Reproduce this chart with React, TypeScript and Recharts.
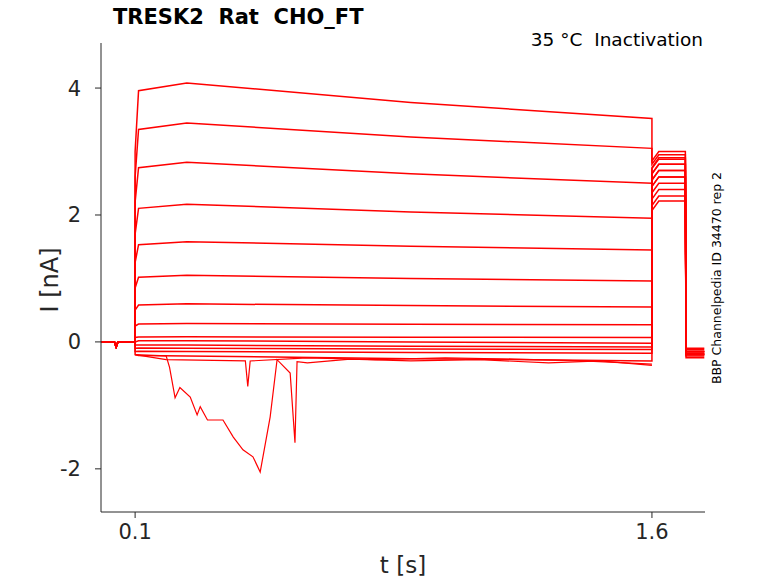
import React from "react";
import { LineChart, Line, XAxis, YAxis } from "recharts";

const xTicks = [0.1, 1.6];
const yTicks = [-2, 0, 2, 4];
// per sweep: current just after onset, plateau near start, value at 1.6 s, tail current
const sweepOnset = [3.0, 2.6, 2.2, 1.7, 1.25, 0.85, 0.5, 0.25, 0.07, 0.0, -0.05, -0.1, -0.15, -0.2];
const sweepPeak = [4.08, 3.45, 2.83, 2.17, 1.58, 1.05, 0.6, 0.29, 0.08, 0.02, -0.05, -0.1, -0.15, -0.22];
const sweepEnd = [3.52, 3.05, 2.5, 1.95, 1.45, 0.96, 0.55, 0.27, 0.07, -0.02, -0.08, -0.12, -0.18, -0.3];
const sweepTail = [3.0, 2.95, 2.88, 2.8, 2.7, 2.6, 2.5, 2.4, 2.3, 2.22, 2.6, 2.7, 2.8, 2.9];
const sweepAfter = [-0.15, -0.15, -0.18, -0.2, -0.2, -0.22, -0.15, -0.12, -0.1, -0.18, -0.2, -0.25, -0.15, -0.2];
const spikeT = [0.1, 0.19, 0.2, 0.216, 0.23, 0.26, 0.28, 0.289, 0.31, 0.355, 0.385, 0.413, 0.442, 0.463, 0.492, 0.512, 0.55, 0.564, 0.57, 0.6, 0.724, 0.9, 1.1, 1.3, 1.45, 1.6];
const spikeI = [-0.2, -0.22, -0.4, -0.88, -0.72, -0.87, -1.15, -1.02, -1.23, -1.23, -1.5, -1.7, -1.81, -2.05, -1.18, -0.28, -0.49, -1.59, -0.31, -0.33, -0.27, -0.3, -0.28, -0.33, -0.3, -0.37];
const lowT = [0.1, 0.19, 0.42, 0.427, 0.434, 0.6, 0.8, 1.0, 1.2, 1.4, 1.6];
const lowI = [-0.2, -0.28, -0.3, -0.7, -0.3, -0.25, -0.28, -0.25, -0.27, -0.3, -0.35];

const sweeps = sweepPeak.map((p, i) => [
  { t: 0.001, v: 0 },
  { t: 0.04, v: 0 },
  { t: 0.045, v: -0.08 },
  { t: 0.05, v: 0 },
  { t: 0.1, v: 0 },
  { t: 0.1, v: sweepOnset[i] },
  { t: 0.11, v: p * 0.97 },
  { t: 0.25, v: p },
  { t: 0.9, v: p - (p - sweepEnd[i]) * 0.55 },
  { t: 1.6, v: sweepEnd[i] },
  { t: 1.6, v: sweepTail[i] - 0.15 },
  { t: 1.62, v: sweepTail[i] },
  { t: 1.697, v: sweepTail[i] },
  { t: 1.699, v: sweepAfter[i] },
  { t: 1.752, v: sweepAfter[i] },
]);
const spike = spikeT.map((t, i) => ({ t, v: spikeI[i] }));
const low = lowT.map((t, i) => ({ t, v: lowI[i] }));

const tickStyle = { fontSize: 21, fill: "#262626", fontFamily: "DejaVu Sans" };

export default function App() {
  return (
    <div style={{ position: "absolute", left: 0, top: 0, width: 778, height: 583, background: "#fff", fontFamily: "DejaVu Sans" }}>
      <LineChart width={778} height={583} margin={{ top: 43, right: 73, bottom: 41, left: 41 }}>
        <XAxis type="number" dataKey="t" domain={[0.001, 1.754]} ticks={xTicks} allowDataOverflow
          tickFormatter={(v) => String(v)} tick={tickStyle} stroke="#262626" height={30} tickSize={6} tickMargin={6} />
        <YAxis type="number" dataKey="v" domain={[-2.68, 4.71]} ticks={yTicks} allowDataOverflow
          tick={tickStyle} stroke="#262626" width={60} tickSize={6} tickMargin={14} />
        {sweeps.map((d, i) => (
          <Line key={i} data={d} dataKey="v" type="linear" stroke="#ff0000" strokeWidth={1.5} dot={false} isAnimationActive={false} />
        ))}
        <Line data={low} dataKey="v" type="linear" stroke="#ff0000" strokeWidth={1.2} dot={false} isAnimationActive={false} />
        <Line data={spike} dataKey="v" type="linear" stroke="#ff0000" strokeWidth={1.2} dot={false} isAnimationActive={false} />
      </LineChart>
      <div style={{ position: "absolute", left: 113, top: 5, fontSize: 21, fontWeight: "bold", whiteSpace: "pre" }}>TRESK2  Rat  CHO_FT</div>
      <div style={{ position: "absolute", right: 75, top: 29, fontSize: 18.5, whiteSpace: "pre" }}>35 °C  Inactivation</div>
      <div style={{ position: "absolute", left: 403, top: 552, fontSize: 23, color: "#262626", transform: "translateX(-50%)" }}>t [s]</div>
      <div style={{ position: "absolute", left: 50, top: 280, fontSize: 24, color: "#262626", transform: "translate(-50%,-50%) rotate(-90deg)", whiteSpace: "pre" }}>I [nA]</div>
      <div style={{ position: "absolute", left: 716, top: 278, fontSize: 12.5, transform: "translate(-50%,-50%) rotate(-90deg)", whiteSpace: "pre" }}>BBP Channelpedia ID 34470 rep 2</div>
    </div>
  );
}
